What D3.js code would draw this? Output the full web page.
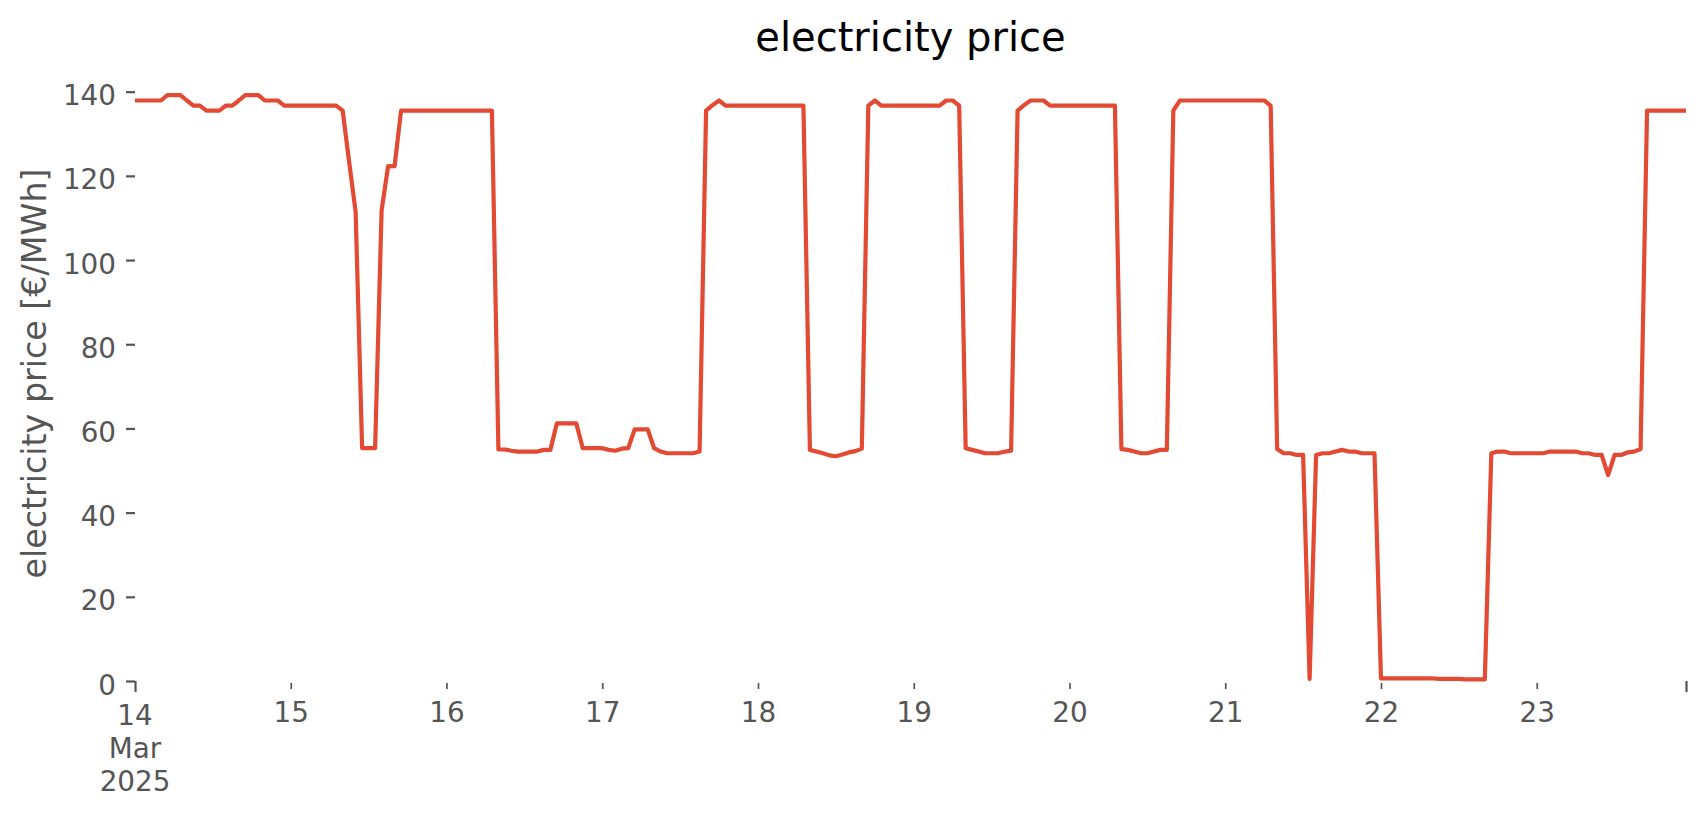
<!DOCTYPE html>
<html>
<head>
<meta charset="utf-8">
<script src="https://cdn.jsdelivr.net/npm/d3@7"></script>
<style>
  html, body { margin: 0; padding: 0; background: #fff; }
  svg { display: block; font-family: "DejaVu Sans", sans-serif; }
</style>
</head>
<body>
<svg id="chart" width="1706" height="815"></svg>
<script>
// ---- data (hourly electricity price, €/MWh) ----
const startTime = "2025-03-14T00:00:00Z";
const dayTicks = ["2025-03-14", "2025-03-15", "2025-03-16", "2025-03-17", "2025-03-18",
                  "2025-03-19", "2025-03-20", "2025-03-21", "2025-03-22", "2025-03-23"];
const dayLabels = ["14", "15", "16", "17", "18", "19", "20", "21", "22", "23"];
const firstTickLabel = ["14", "Mar", "2025"];
const yTicks = [0, 20, 40, 60, 80, 100, 120, 140];

const price14 = [137.9, 137.9, 137.9, 137.9, 137.9, 139.2, 139.2, 139.2, 137.9, 136.7, 136.7, 135.5,
                 135.5, 135.5, 136.7, 136.7, 137.9, 139.2, 139.2, 139.2, 137.9, 137.9, 137.9, 136.7];
const price15 = [136.7, 136.7, 136.7, 136.7, 136.7, 136.7, 136.7, 136.7, 135.5, 123.3, 111.4, 55.3,
                 55.3, 55.3, 111.8, 122.3, 122.3, 135.5, 135.5, 135.5, 135.5, 135.5, 135.5, 135.5];
const price16 = [135.5, 135.5, 135.5, 135.5, 135.5, 135.5, 135.5, 135.5, 55.0, 55.0, 54.7, 54.5,
                 54.5, 54.5, 54.5, 54.9, 54.9, 61.2, 61.2, 61.2, 61.2, 55.3, 55.3, 55.3];
const price17 = [55.3, 54.9, 54.7, 55.2, 55.3, 59.8, 59.8, 59.8, 55.3, 54.5, 54.1, 54.1,
                 54.1, 54.1, 54.1, 54.5, 135.5, 136.8, 137.9, 136.7, 136.7, 136.7, 136.7, 136.7];
const price18 = [136.7, 136.7, 136.7, 136.7, 136.7, 136.7, 136.7, 136.7, 54.9, 54.5, 54.1, 53.6,
                 53.4, 53.8, 54.3, 54.6, 55.2, 136.7, 137.9, 136.7, 136.7, 136.7, 136.7, 136.7];
const price19 = [136.7, 136.7, 136.7, 136.7, 136.7, 137.9, 137.9, 136.7, 55.3, 54.9, 54.5, 54.1,
                 54.1, 54.1, 54.5, 54.7, 135.5, 136.8, 137.9, 137.9, 137.9, 136.7, 136.7, 136.7];
const price20 = [136.7, 136.7, 136.7, 136.7, 136.7, 136.7, 136.7, 136.7, 55.1, 54.9, 54.5, 54.1,
                 54.1, 54.5, 54.9, 54.9, 135.5, 137.9, 137.9, 137.9, 137.9, 137.9, 137.9, 137.9];
const price21 = [137.9, 137.9, 137.9, 137.9, 137.9, 137.9, 137.9, 136.7, 55.1, 54.1, 54.1, 53.7,
                 53.7, 0.5, 53.7, 54.1, 54.1, 54.5, 54.9, 54.5, 54.5, 54.1, 54.1, 54.1];
const price22 = [0.6, 0.6, 0.6, 0.6, 0.6, 0.6, 0.6, 0.6, 0.6, 0.5, 0.5, 0.5,
                 0.5, 0.4, 0.4, 0.4, 0.4, 54.1, 54.5, 54.5, 54.1, 54.1, 54.1, 54.1];
const price23 = [54.1, 54.1, 54.5, 54.5, 54.5, 54.5, 54.5, 54.1, 54.1, 53.7, 53.7, 48.9,
                 53.7, 53.7, 54.3, 54.5, 55.1, 135.5, 135.5, 135.5, 135.5, 135.5, 135.5, 135.5];

const prices = [].concat(price14, price15, price16, price17, price18,
                         price19, price20, price21, price22, price23);

(function draw() {
  const svg = d3.select("#chart");
  const plotLeft = 135, plotRight = 1686, plotBottom = 681, plotTop = 66;
  const t0 = new Date(startTime);
  const HOUR = 3600 * 1000;
  const series = prices.map((v, i) => ({ t: new Date(t0.getTime() + i * HOUR), v }));
  const tEnd = series[series.length - 1].t;

  const x = d3.scaleUtc().domain([t0, tEnd]).range([plotLeft, plotRight]);
  const y = d3.scaleLinear().domain([0, 146.1]).range([plotBottom, plotTop]);

  const tickColor = "#555555";
  const lineColor = "#E24A33";

  // title
  svg.append("text")
    .attr("x", (plotLeft + plotRight) / 2).attr("y", 51)
    .attr("text-anchor", "middle")
    .attr("font-size", 40).attr("fill", "#000")
    .text("electricity price");

  // y label
  svg.append("text")
    .attr("transform", `translate(46, ${(plotTop + plotBottom) / 2}) rotate(-90)`)
    .attr("text-anchor", "middle")
    .attr("font-size", 33.3).attr("fill", tickColor)
    .text("electricity price [€/MWh]");

  // y axis
  const yAxis = svg.append("g")
    .attr("transform", `translate(${plotLeft},0)`)
    .call(d3.axisLeft(y).tickValues(yTicks).tickSize(9).tickPadding(10).tickFormat(d3.format("d")));
  yAxis.select(".domain").remove();
  yAxis.selectAll(".tick line").attr("stroke", tickColor).attr("stroke-width", 2.2);
  yAxis.selectAll(".tick text")
    .attr("fill", tickColor).attr("font-size", 27.8)
    .attr("font-family", "DejaVu Sans")
    .attr("dy", "0.47em");

  // x axis minor ticks (days 15..23)
  const minorDates = dayTicks.slice(1).map(d => new Date(d + "T00:00:00Z"));
  const xMinor = svg.append("g")
    .attr("transform", `translate(0,${plotBottom + 2})`)
    .call(d3.axisBottom(x).tickValues(minorDates).tickSize(6).tickFormat((d, i) => dayLabels[i + 1]));
  xMinor.select(".domain").remove();
  xMinor.selectAll(".tick line").attr("stroke", tickColor).attr("stroke-width", 1.7);
  xMinor.selectAll(".tick text")
    .attr("fill", tickColor).attr("font-size", 27.8)
    .attr("font-family", "DejaVu Sans")
    .attr("y", 721.7 - plotBottom - 2).attr("dy", 0);

  // x axis major ticks (start and end)
  const majorDates = [t0, tEnd];
  const xMajor = svg.append("g")
    .attr("transform", `translate(0,${plotBottom})`)
    .call(d3.axisBottom(x).tickValues(majorDates).tickSize(11).tickFormat(""));
  xMajor.select(".domain").remove();
  xMajor.selectAll(".tick line").attr("stroke", tickColor).attr("stroke-width", 2.2);

  // first tick label (multi-line)
  const firstLabel = svg.append("text")
    .attr("text-anchor", "middle")
    .attr("font-size", 27.8).attr("fill", tickColor);
  firstTickLabel.forEach((s, i) => {
    firstLabel.append("tspan")
      .attr("x", x(t0)).attr("y", 725 + i * 33)
      .text(s);
  });

  // line
  const line = d3.line().x(d => x(d.t)).y(d => y(d.v));
  svg.append("path")
    .datum(series)
    .attr("d", line)
    .attr("fill", "none")
    .attr("stroke", lineColor)
    .attr("stroke-width", 4.2)
    .attr("stroke-linejoin", "round")
    .attr("stroke-linecap", "butt");
})();
</script>
</body>
</html>
